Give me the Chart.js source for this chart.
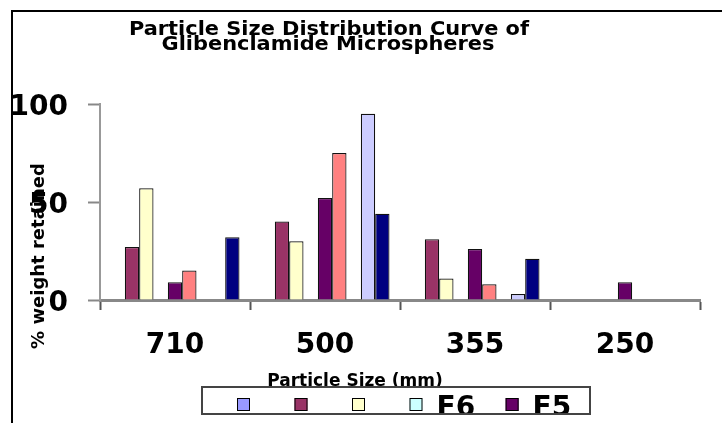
<!DOCTYPE html>
<html>
<head>
<meta charset="utf-8">
<script src="https://cdn.jsdelivr.net/npm/chart.js@4/dist/chart.umd.min.js"></script>
<style>
  html, body { margin: 0; padding: 0; background: #ffffff; overflow: hidden; }
  #wrap { width: 722px; height: 423px; position: relative; }
</style>
</head>
<body>
<div id="wrap"><canvas id="chart" width="722" height="423"></canvas></div>
<script>
// Sieve sizes (x categories)
const categories = ['710', '500', '355', '250'];

// % weight retained on each sieve, one array per formulation
const seriesA = [null, null, null, null];
const seriesB = [27, 40, 31, null];
const seriesC = [57, 30, 11, null];
const seriesF6 = [null, null, null, null];
const seriesF5 = [9, 52, 26, 9];
const seriesD = [15, 75, 8, null];
const seriesE = [null, null, null, null];
const seriesF = [null, 95, 3, null];
const seriesG = [32, 44, 21, null];

const seriesNames = ['', '', '', 'F6', 'F5', '', '', '', ''];
const seriesValues = [seriesA, seriesB, seriesC, seriesF6, seriesF5, seriesD, seriesE, seriesF, seriesG];
const seriesColors = ['#9999FF', '#993366', '#FFFFCC', '#CCFFFF', '#660066', '#FF8080', '#0066CC', '#CCCCFF', '#000080'];

const yTicks = [0, 50, 100];

const titleLines = ['Particle Size Distribution Curve of', 'Glibenclamide Microspheres'];
const xTitle = 'Particle Size (mm)';
const yTitle = '% weight retained';
const legendCount = 5;

const FONT = "'DejaVu Sans', sans-serif";

function stretchedText(ctx, text, x, y, size, sx, align) {
  ctx.save();
  ctx.font = 'bold ' + size + 'px ' + FONT;
  ctx.textAlign = align || 'center';
  ctx.textBaseline = 'alphabetic';
  ctx.translate(x, y);
  ctx.scale(sx, 1);
  ctx.fillText(text, 0, 0);
  ctx.restore();
}

const decor = {
  id: 'decor',
  beforeDraw(chart) {
    const ctx = chart.ctx;
    ctx.save();
    ctx.fillStyle = '#ffffff';
    ctx.fillRect(0, 0, chart.width, chart.height);
    ctx.restore();
  },
  afterDraw(chart) {
    const ctx = chart.ctx;
    ctx.save();
    // frame on the top and left edges
    ctx.fillStyle = '#000000';
    ctx.fillRect(11, 10, chart.width - 11, 2);
    ctx.fillRect(11, 10, 2, chart.height - 10);

    // chart title
    ctx.fillStyle = '#000000';
    stretchedText(ctx, titleLines[0], 329, 35, 19, 1.1);
    stretchedText(ctx, titleLines[1], 328, 50, 19, 1.1);

    // axis titles
    stretchedText(ctx, xTitle, 355, 386, 17, 1.0);
    ctx.save();
    ctx.translate(44, 256);
    ctx.rotate(-Math.PI / 2);
    stretchedText(ctx, yTitle, 0, 0, 18, 1.0);
    ctx.restore();

    // legend
    const box = { x: 202, y: 387, w: 388, h: 27 };
    ctx.save();
    ctx.beginPath();
    ctx.rect(box.x, box.y, box.w, box.h);
    ctx.clip();
    let x = 237;
    const sw = 13, gapText = 14, gapItem = 30.5;
    ctx.font = 'bold 28px ' + FONT;
    for (let i = 0; i < legendCount; i++) {
      const ds = chart.data.datasets[i];
      ctx.fillStyle = ds.backgroundColor;
      ctx.fillRect(x, 398, sw, sw);
      ctx.strokeStyle = '#000000';
      ctx.lineWidth = 1;
      ctx.strokeRect(x + 0.5, 398.5, sw - 1, sw - 1);
      const label = ds.label || '';
      ctx.fillStyle = '#000000';
      ctx.textAlign = 'left';
      ctx.textBaseline = 'alphabetic';
      ctx.fillText(label, x + sw + gapText, 416);
      x += sw + gapText + ctx.measureText(label).width + gapItem;
    }
    ctx.restore();
    ctx.strokeStyle = '#444444';
    ctx.lineWidth = 2;
    ctx.strokeRect(box.x, box.y, box.w, box.h);
    ctx.restore();
  }
};

const datasets = seriesValues.map((vals, i) => ({
  label: seriesNames[i],
  data: vals,
  backgroundColor: seriesColors[i],
  borderColor: '#111111',
  borderWidth: 1.2,
  categoryPercentage: 0.86,
  barPercentage: 1.0
}));

new Chart(document.getElementById('chart'), {
  type: 'bar',
  data: { labels: categories, datasets },
  plugins: [decor],
  options: {
    responsive: false,
    animation: false,
    devicePixelRatio: 1,
    layout: { padding: { top: 104, left: 0, right: 22, bottom: 63 } },
    plugins: {
      legend: { display: false },
      title: { display: false },
      tooltip: { enabled: false }
    },
    scales: {
      x: {
        afterFit(scale) { scale.height = 60; },
        grid: {
          display: true,
          offset: true,
          drawOnChartArea: false,
          drawTicks: true,
          tickLength: 10,
          tickColor: '#555555',
          tickWidth: 2
        },
        border: { display: true, color: '#888888', width: 3 },
        ticks: {
          color: '#000000',
          padding: 19,
          font: { family: FONT, size: 28, weight: 'bold' }
        }
      },
      y: {
        min: 0,
        max: 100,
        afterFit(scale) { scale.width = 100; },
        afterBuildTicks(scale) { scale.ticks = yTicks.map(v => ({ value: v })); },
        grid: {
          display: true,
          drawOnChartArea: false,
          drawTicks: true,
          tickLength: 12,
          tickColor: '#888888',
          tickWidth: 2
        },
        border: { display: true, color: '#999999', width: 2 },
        ticks: {
          color: '#000000',
          padding: 20,
          labelOffset: 4,
          font: { family: FONT, size: 28, weight: 'bold' }
        }
      }
    }
  }
});
</script>
</body>
</html>
